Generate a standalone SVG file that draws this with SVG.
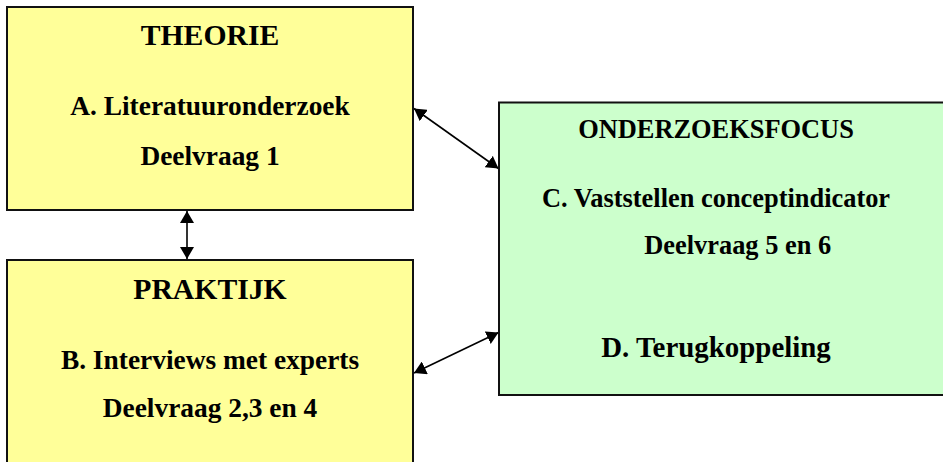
<svg xmlns="http://www.w3.org/2000/svg" width="943" height="462" viewBox="0 0 943 462">
<style>
.box{stroke:#111;stroke-width:2}
.y{fill:#FFFF99}
.g{fill:#CCFFCC}
text{font-family:"Liberation Serif","Times New Roman",serif;font-weight:bold;fill:#000;text-anchor:middle}
.h{font-size:29.7px}
.b{font-size:27.4px}
.gb{font-size:26.4px}
.d{font-size:28.9px}
.c{stroke:#000;stroke-width:1.6;fill:none;marker-start:url(#ah);marker-end:url(#ah)}
</style>
<defs>
<marker id="ah" viewBox="0 0 12 14" refX="12" refY="7" markerWidth="12" markerHeight="14" markerUnits="userSpaceOnUse" orient="auto-start-reverse">
<path d="M0,0 L12,7 L0,14 z" fill="#000"/>
</marker>
</defs>
<g id="connectors">
<line class="c" x1="187" y1="211" x2="187" y2="259"/>
<line class="c" x1="414" y1="108.5" x2="498.5" y2="168.5"/>
<line class="c" x1="414" y1="373" x2="498.5" y2="332.5"/>
</g>
<g id="theorie">
<rect class="box y" x="7" y="7" width="406" height="203"/>
<text class="h" x="210" y="44.5">THEORIE</text>
<text class="b" x="210" y="115">A. Literatuuronderzoek</text>
<text class="b" x="210" y="165">Deelvraag 1</text>
</g>
<g id="praktijk">
<rect class="box y" x="7" y="260" width="406" height="215"/>
<text class="h" x="210" y="299">PRAKTIJK</text>
<text class="b" x="210" y="369">B. Interviews met experts</text>
<text class="b" x="210" y="417">Deelvraag 2,3 en 4</text>
</g>
<g id="onderzoeksfocus">
<rect class="box g" x="499" y="102.5" width="460" height="292.5"/>
<text class="gb" x="716" y="138">ONDERZOEKSFOCUS</text>
<text class="gb" x="716" y="207">C. Vaststellen conceptindicator</text>
<text class="gb" x="737.7" y="254">Deelvraag 5 en 6</text>
<text class="d" x="716" y="357">D. Terugkoppeling</text>
</g>
</svg>
